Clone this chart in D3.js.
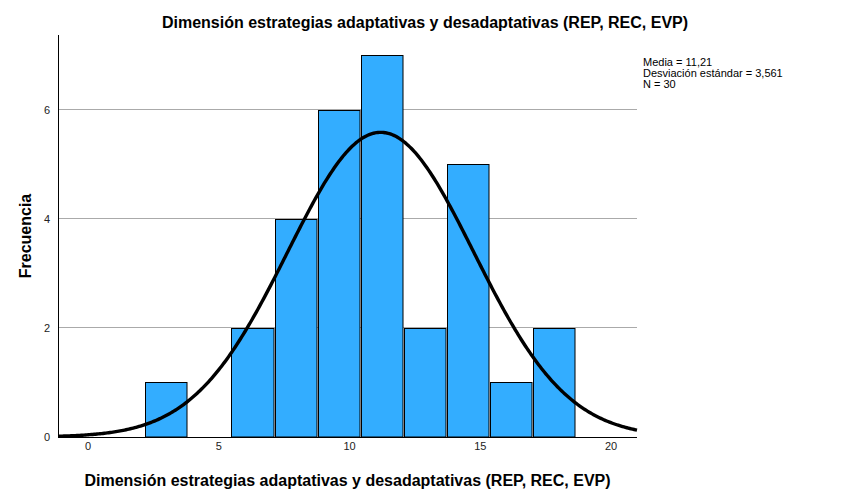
<!DOCTYPE html>
<html><head><meta charset="utf-8">
<script src="https://cdn.jsdelivr.net/npm/d3@7"></script>
<style>body{margin:0;background:#fff}svg{display:block}text{font-family:Arial,"Liberation Sans",sans-serif}</style>
</head><body>
<svg id="c" width="850" height="500"></svg>
<script>
const binStarts = [2.21, 3.857, 5.504, 7.151, 8.798, 10.445, 12.092, 13.739, 15.386, 17.033];
const binWidth = 1.647;
const counts = [1, 0, 2, 4, 6, 7, 2, 5, 1, 2];
const yTicks = [0, 2, 4, 6];
const xTicks = [0, 5, 10, 15, 20];
const stats = {mean: 11.21, sd: 3.561, n: 30};
const curvePeak = 5.59; // height of the fitted normal curve
const legendLines = ["Media = 11,21", "Desviación estándar = 3,561", "N = 30"];
const title = "Dimensión estrategias adaptativas y desadaptativas (REP, REC, EVP)";

const svg = d3.select("#c");
const L = 58, R = 637, T = 35, B = 437;
const x = d3.scaleLinear().domain([-1.128, 21.013]).range([L, R]);
const y = d3.scaleLinear().domain([0, 7.376]).range([B, T]);

// gridlines
svg.append("g").selectAll("line").data(yTicks.filter(d => d > 0)).join("line")
  .attr("x1", L).attr("x2", R).attr("y1", d => y(d)).attr("y2", d => y(d))
  .attr("stroke", "#aaaaaa").attr("stroke-width", 1).attr("shape-rendering", "crispEdges");

// bars
const bars = counts.map((c, i) => ({c, s: binStarts[i]})).filter(d => d.c > 0);
svg.append("g").selectAll("rect").data(bars).join("rect")
  .attr("x", d => Math.round(x(d.s)) + 0.5).attr("width", d => Math.round(x(d.s + binWidth)) - Math.round(x(d.s)) - 1.5)
  .attr("y", d => Math.round(y(d.c)) + 0.5).attr("height", d => Math.max(0, y(0) - Math.round(y(d.c)) - 0.5))
  .attr("fill", "#33adff").attr("stroke", "#000").attr("stroke-width", 1);

// axes
const yAxis = d3.axisLeft(y).tickValues(yTicks).tickSize(0).tickPadding(8);
const gy = svg.append("g").attr("transform", `translate(${L},0)`).call(yAxis);
gy.select(".domain").remove();
gy.selectAll("text").attr("font-size", 11).attr("fill", "#222").attr("font-family", "Arial, 'Liberation Sans', sans-serif");
const xAxis = d3.axisBottom(x).tickValues(xTicks).tickSize(0).tickPadding(5);
const gx = svg.append("g").attr("transform", `translate(0,${B})`).call(xAxis);
gx.select(".domain").remove();
gx.selectAll("text").attr("font-size", 11).attr("fill", "#222").attr("font-family", "Arial, 'Liberation Sans', sans-serif");

svg.append("line").attr("x1", L).attr("x2", L).attr("y1", T).attr("y2", B).attr("stroke", "#000").attr("stroke-width", 1).attr("shape-rendering", "crispEdges");
svg.append("line").attr("x1", L).attr("x2", R).attr("y1", B).attr("y2", B).attr("stroke", "#000").attr("stroke-width", 1).attr("shape-rendering", "crispEdges");

// normal curve (fitted from the stated mean and standard deviation)
const xs = d3.range(0, 401).map(i => -1.128 + i * (21.013 + 1.128) / 400);
const curve = xs.map(v => [v, curvePeak * Math.exp(-0.5 * ((v - stats.mean) / stats.sd) ** 2)]);
svg.append("path").datum(curve)
  .attr("d", d3.line().x(d => x(d[0])).y(d => y(d[1])))
  .attr("fill", "none").attr("stroke", "#000").attr("stroke-width", 3.4);

// legend
svg.append("g").selectAll("text").data(legendLines).join("text")
  .attr("x", 643).attr("y", (d, i) => 66 + i * 11).attr("font-size", 11).attr("fill", "#000").text(d => d);

// titles
svg.append("text").attr("x", 425).attr("y", 28).attr("text-anchor", "middle")
  .attr("font-size", 16).attr("font-weight", "bold").text(title);
svg.append("text").attr("x", (L + R) / 2).attr("y", 486).attr("text-anchor", "middle")
  .attr("font-size", 16).attr("font-weight", "bold").text(title);
svg.append("text").attr("transform", `translate(31,${(T + B) / 2}) rotate(-90)`).attr("text-anchor", "middle")
  .attr("font-size", 16).attr("font-weight", "bold").text("Frecuencia");
</script>
</body></html>
